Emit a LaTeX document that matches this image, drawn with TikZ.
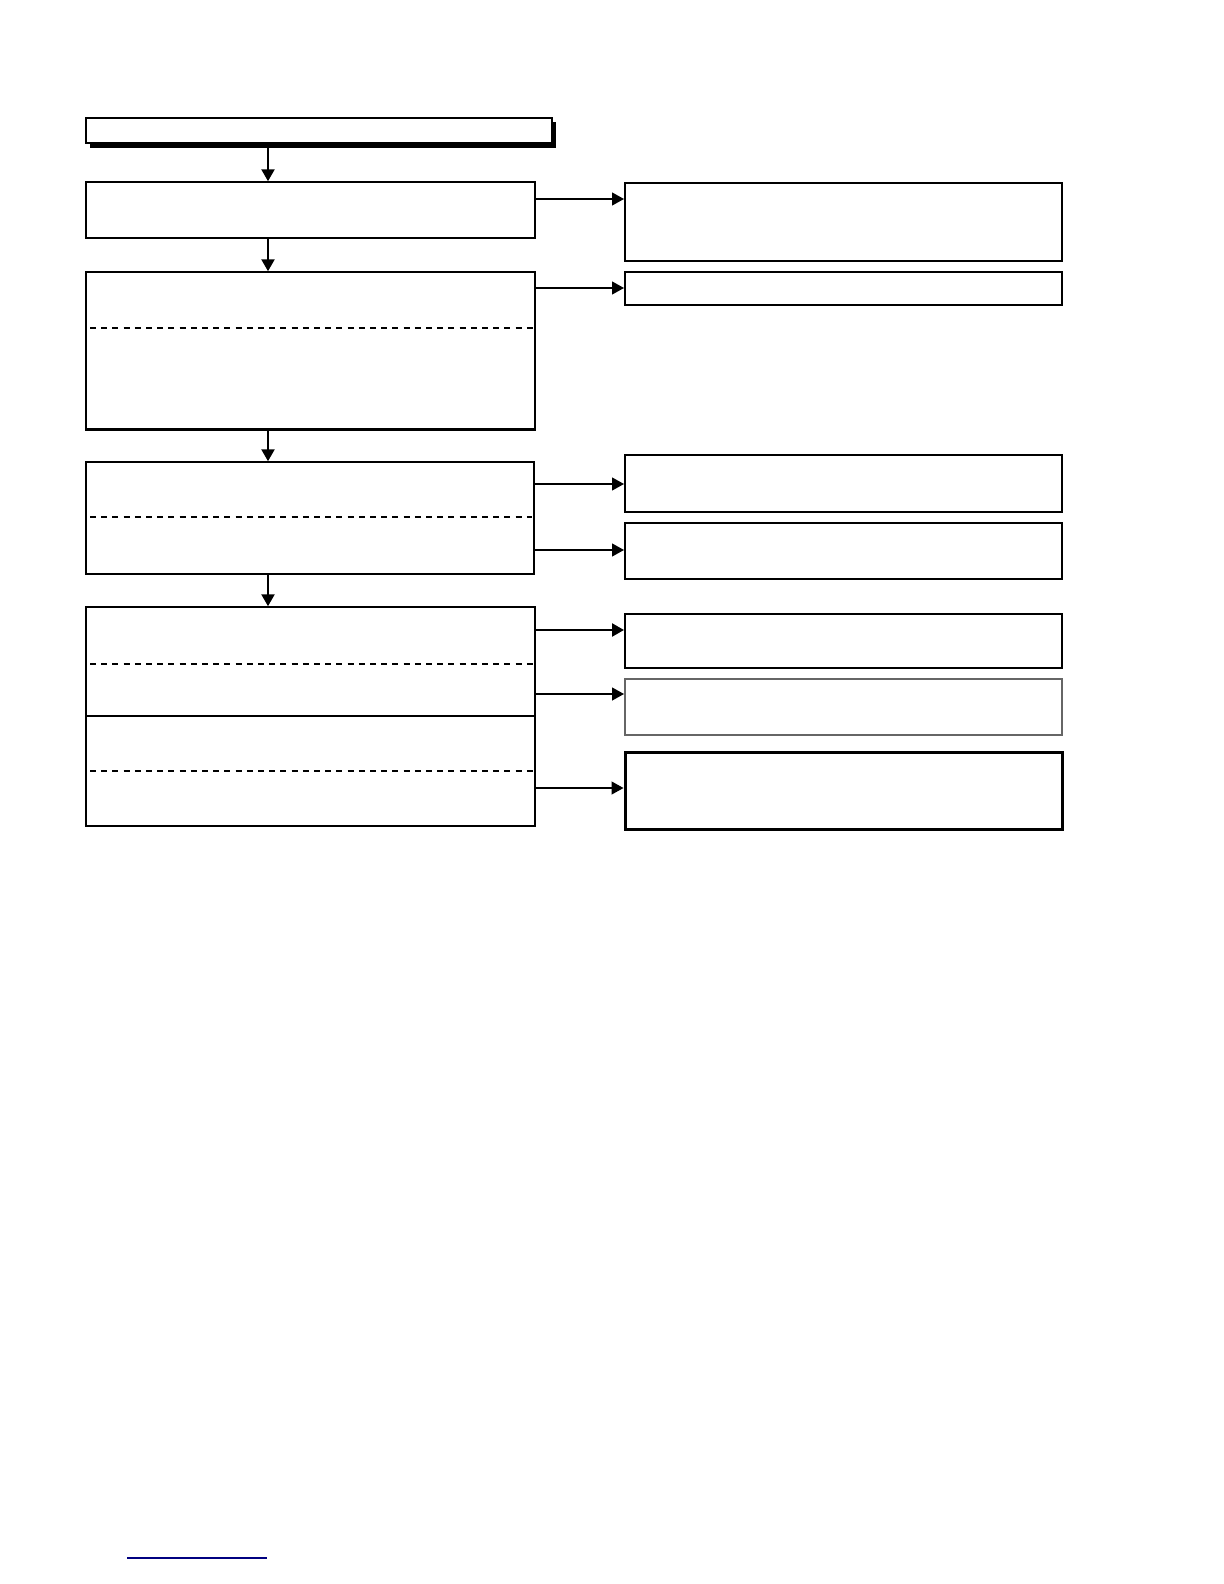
\documentclass[tikz,border=0pt]{standalone}
\usepackage{tikz}
\usetikzlibrary{arrows.meta}
\usetikzlibrary{fit}

\tikzset{
  box/.style={draw, line width=0.75pt, inner sep=0pt},
  sidebox/.style={draw, line width=1pt, inner sep=0pt},
  arr/.style={-{Triangle[length=6pt,width=6.5pt]}, line width=0.6pt},
  downarr/.style={-{Triangle[length=6pt,width=6.5pt]}, line width=1.2pt},
  split/.style={dash pattern=on 3pt off 2.6pt, line width=0.6pt}
}

\begin{document}
\begin{tikzpicture}[x=0.5pt, y=-0.5pt]
        \useasboundingbox (0, 0) rectangle (1224, 1584);
        % title box with shadow
        \fill[black] (90, 122) rectangle (556, 148);
        \node[box, fill=white, fit={(86, 118) (552, 143)}] (title) {};
        % left column
        \node[box, fit={(86, 182) (535, 238)}] (check1) {};
        \node[box, fit={(86, 272) (535, 429)}] (check2) {};
        \node[box, fit={(86, 462) (534, 574)}] (check3) {};
        \node[box, fit={(86, 607) (535, 826)}] (check4) {};
        \draw[line width=1.4pt] (check2.south west) -- (check2.south east);
        \draw[split] (90, 328) -- (533, 328);
        \draw[split] (90, 517) -- (532, 517);
        \draw[split] (90, 664) -- (533, 664);
        \draw[line width=0.75pt] (86, 716) -- (535, 716);
        \draw[split, line width=1.1pt] (90, 771) -- (533, 771);
        % right column
        \node[sidebox, fit={(625, 183) (1062, 261)}] (fix1) {};
        \node[sidebox, fit={(625, 272) (1062, 305)}] (fix2) {};
        \node[sidebox, fit={(625, 455) (1062, 512)}] (fix3) {};
        \node[sidebox, fit={(625, 523) (1062, 579)}] (fix4) {};
        \node[sidebox, fit={(625, 614) (1062, 668)}] (fix5) {};
        \node[sidebox, draw=black!60, fit={(625, 679) (1062, 735)}] (fix6) {};
        \node[sidebox, line width=1.5pt, fit={(625, 752) (1062, 829)}] (fix7) {};
        % flow downwards
        \draw[downarr] (title.south -| 268, 0) -- (check1.north -| 268, 0);
        \draw[downarr] (check1.south -| 268, 0) -- (check2.north -| 268, 0);
        \draw[downarr] (check2.south -| 268, 0) -- (check3.north -| 268, 0);
        \draw[downarr] (check3.south -| 268, 0) -- (check4.north -| 268, 0);
        % branches to the right
        \draw[arr] (check1.east |- 0, 199) -- (fix1.west |- 0, 199);
        \draw[arr] (check2.east |- 0, 288) -- (fix2.west |- 0, 288);
        \draw[arr] (check3.east |- 0, 484) -- (fix3.west |- 0, 484);
        \draw[arr] (check3.east |- 0, 550) -- (fix4.west |- 0, 550);
        \draw[arr, line width=1.2pt] (check4.east |- 0, 630) -- (fix5.west |- 0, 630);
        \draw[arr] (check4.east |- 0, 694) -- (fix6.west |- 0, 694);
        \draw[arr] (check4.east |- 0, 788) -- (fix7.west |- 0, 788);
        % footer rule
        \draw[blue!50!black, line width=0.8pt] (127, 1558) -- (267, 1558);
      \end{tikzpicture}
\end{document}
